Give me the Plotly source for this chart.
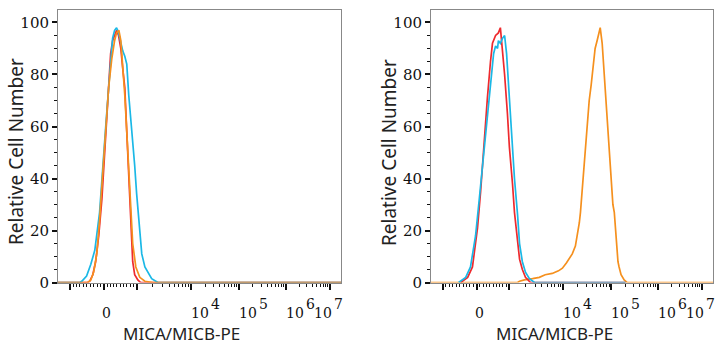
import numpy as np
import plotly.graph_objects as go

# ---------------- data (x in display channel units 0-1000, biexponential display) -------------
# Left panel
L_cyan_x = [0, 77, 84, 101, 116, 130, 147, 158, 168, 179, 186, 193, 200, 207, 214, 222, 229, 236, 239, 243,
            250, 261, 271, 278, 289, 296, 307, 317, 331, 353, 1000]
L_cyan_y = [0, 0, 0.5, 2.5, 7, 12.4, 27, 42, 59, 75, 85, 94, 97, 98, 96, 92, 89, 87, 86, 84,
            72, 59, 45, 34, 20, 11, 6, 4, 1.5, 0, 0]
L_red_x = [0, 105, 112, 123, 133, 144, 155, 165, 172, 179, 186, 193, 200, 207, 214, 222, 229, 236, 243,
           250, 257, 264, 271, 282, 292, 1000]
L_red_y = [0, 0, 0.5, 3, 8, 18, 32, 50, 62, 75, 88, 93, 95, 97, 95, 90, 82, 75, 58,
           42, 24, 8, 3, 1, 0, 0]
L_orange_x = [0, 105, 116, 126, 137, 147, 158, 169, 179, 190, 200, 207, 215, 222, 229, 236, 243, 250, 257,
              264, 275, 289, 307, 335, 1000]
L_orange_y = [0, 0, 1, 4, 11, 24, 42, 60, 75, 86, 93, 96, 97, 93, 84, 72, 58, 44, 30,
              15, 6, 2, 0.5, 0, 0]

# Right panel
R_red_x = [105, 112, 130, 147, 165, 176, 183, 193, 200, 211, 218, 229, 239, 246, 253, 261, 271, 278,
           289, 296, 307, 314, 324, 335, 353, 690]
R_red_y = [0, 0.5, 2, 6, 21, 35, 46, 62, 71, 85, 92, 95, 96, 98, 90, 80, 65, 52,
           38, 27, 16, 9, 5, 2, 0, 0]
R_cyan_x = [98, 105, 123, 140, 158, 172, 183, 193, 204, 215, 222, 229, 236, 239, 246, 254, 261, 268,
            278, 289, 296, 307, 314, 324, 335, 349, 367, 690]
R_cyan_y = [0, 0.5, 2, 6, 18, 33, 45, 58, 70, 82, 88, 91, 90, 93, 92, 94, 95, 88,
            71, 55, 40, 26, 15, 8, 4, 1.5, 0, 0]
R_orange_x = [0, 307, 314, 331, 360, 384, 405, 430, 452, 466, 480, 490, 501, 512, 519, 526, 530, 536,
              543, 551, 554, 561, 568, 572, 579, 582, 589, 596, 600, 607, 614, 621, 628, 631, 638,
              645, 650, 656, 663, 667, 674, 685, 696, 1000]
R_orange_y = [0, 0, 0.5, 1, 1.5, 2, 3, 3.5, 4.5, 5.5, 7.5, 9, 11, 14, 18, 23, 27, 36,
              46, 55, 61, 70, 76, 80, 86, 90, 93, 97, 98, 92, 80, 68, 58, 52, 40,
              30, 27, 16, 8, 6, 3, 1, 0, 0]

# axis tick positions (display units) and labels
major_ticks = [41, 162, 278, 469, 639, 805, 961]   # -10^3, 0, 10^3, 10^4 ... 10^7
tick_base = ["", "0", "", "10", "10", "10", "10"]
tick_exp = ["", "", "", "4", "5", "6", "7"]

RED = "#ee2a2e"
ORANGE = "#f5901e"
CYAN = "#1bb8e6"

# minor ticks
minor = []
z = major_ticks[1]
for m in range(1, 10):
    minor.append(z - (z - major_ticks[0]) * m / 10)
    minor.append(z + (major_ticks[2] - z) * m / 10)
for a, b in zip(major_ticks[2:-1], major_ticks[3:]):
    for m in range(2, 10):
        minor.append(a + (b - a) * np.log10(m))

fig = go.Figure()
serif = "DejaVu Serif"
sans = "Noto Sans"

def add(x, y, color, ax):
    fig.add_trace(go.Scatter(x=x, y=y, mode="lines", line=dict(color=color, width=1.7),
                             xaxis=ax[0], yaxis=ax[1], showlegend=False, hoverinfo="skip"))

add(L_red_x, L_red_y, RED, ("x", "y"))
add(L_cyan_x, L_cyan_y, CYAN, ("x", "y"))
add(L_orange_x, L_orange_y, ORANGE, ("x", "y"))
add(R_orange_x, R_orange_y, ORANGE, ("x2", "y2"))
add(R_red_x, R_red_y, RED, ("x2", "y2"))
add(R_cyan_x, R_cyan_y, CYAN, ("x2", "y2"))

xdoms = [[58 / 726, 341 / 726], [431 / 726, 713 / 726]]
ydom = [1 - 290 / 350, 1 - 10 / 350]

common_x = dict(range=[0, 1000], showgrid=False, zeroline=False, showline=True, mirror=True,
                linecolor="#888", linewidth=1, tickmode="array", tickvals=major_ticks,
                showticklabels=False, ticks="outside", ticklen=6, tickwidth=2, tickcolor="#111",
                minor=dict(tickmode="array", tickvals=minor, ticks="outside", ticklen=3,
                           tickwidth=1, tickcolor="#111"))
common_y = dict(range=[0, 104.9], showgrid=False, zeroline=False, showline=True, mirror=True,
                linecolor="#888", linewidth=1, tickmode="array", tickvals=[0, 20, 40, 60, 80, 100],
                ticks="outside", ticklen=5, tickwidth=2, tickcolor="#111",
                tickfont=dict(family=serif, size=15, color="#111"),
                minor=dict(tickmode="array", tickvals=[v for v in range(5, 100, 5) if v % 20],
                           ticks="outside", ticklen=3, tickwidth=1, tickcolor="#111"))

fig.update_layout(
    width=726, height=350, margin=dict(l=0, r=0, t=0, b=0),
    paper_bgcolor="white", plot_bgcolor="white",
    xaxis=dict(domain=xdoms[0], anchor="y", **common_x),
    yaxis=dict(domain=ydom, anchor="x", **common_y),
    xaxis2=dict(domain=xdoms[1], anchor="y2", **common_x),
    yaxis2=dict(domain=ydom, anchor="x2", **common_y),
)

ann = []
tf = dict(family=serif, size=14, color="#111")
for xa, dom in (("x", xdoms[0]), ("x2", xdoms[1])):
    for v, b, e in zip(major_ticks, tick_base, tick_exp):
        if not b:
            continue
        if not e:
            ann.append(dict(x=v, xref=xa, y=1 - 321 / 350, yref="paper", text=b, showarrow=False,
                            xanchor="center", yanchor="middle", xshift=3, font=tf, borderpad=0))
        else:
            shift = -17 if v == major_ticks[-1] else -1
            ann.append(dict(x=v, xref=xa, y=1 - 321 / 350, yref="paper", text=b, showarrow=False,
                            xanchor="left", yanchor="middle", xshift=shift, font=tf,
                            borderpad=0))
            ann.append(dict(x=v, xref=xa, y=1 - 312 / 350, yref="paper", text=e, showarrow=False,
                            xanchor="left", yanchor="middle", xshift=shift + 20, font=tf,
                            borderpad=0))
    cx = (dom[0] + dom[1]) / 2 - 18 / 726
    ann.append(dict(x=cx, xref="paper", y=1 - 342 / 350, yref="paper", text="MICA/MICB-PE",
                    showarrow=False, xanchor="center", yanchor="middle", borderpad=0,
                    font=dict(family=sans, size=17, color="#222")))
    ann.append(dict(x=dom[0] - 42 / 726, xref="paper", y=1 - 156 / 350, yref="paper",
                    text="Relative Cell Number", textangle=-90, showarrow=False,
                    xanchor="center", yanchor="middle",
                    font=dict(family=sans, size=19, color="#222")))
fig.update_layout(annotations=ann)

fig.write_html("out.html")
